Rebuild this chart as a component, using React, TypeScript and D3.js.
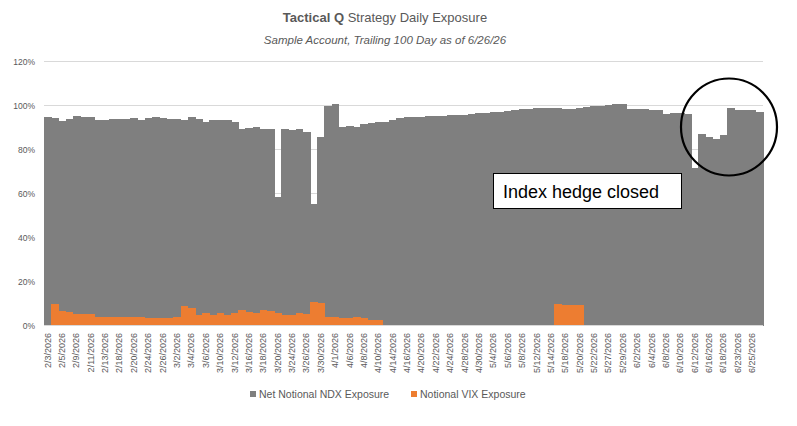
import React from "react";
import * as d3 from "d3";

const dates: string[] = [
  "2/3/2026","2/4/2026","2/5/2026","2/6/2026","2/9/2026","2/10/2026","2/11/2026","2/12/2026","2/13/2026","2/17/2026",
  "2/18/2026","2/19/2026","2/20/2026","2/23/2026","2/24/2026","2/25/2026","2/26/2026","2/27/2026","3/2/2026","3/3/2026",
  "3/4/2026","3/5/2026","3/6/2026","3/9/2026","3/10/2026","3/11/2026","3/12/2026","3/13/2026","3/16/2026","3/17/2026",
  "3/18/2026","3/19/2026","3/20/2026","3/23/2026","3/24/2026","3/25/2026","3/26/2026","3/27/2026","3/30/2026","3/31/2026",
  "4/1/2026","4/2/2026","4/6/2026","4/7/2026","4/8/2026","4/9/2026","4/10/2026","4/13/2026","4/14/2026","4/15/2026",
  "4/16/2026","4/17/2026","4/20/2026","4/21/2026","4/22/2026","4/23/2026","4/24/2026","4/27/2026","4/28/2026","4/29/2026",
  "4/30/2026","5/1/2026","5/4/2026","5/5/2026","5/6/2026","5/7/2026","5/8/2026","5/11/2026","5/12/2026","5/13/2026",
  "5/14/2026","5/15/2026","5/18/2026","5/19/2026","5/20/2026","5/21/2026","5/22/2026","5/26/2026","5/27/2026","5/28/2026",
  "5/29/2026","6/1/2026","6/2/2026","6/3/2026","6/4/2026","6/5/2026","6/8/2026","6/9/2026","6/10/2026","6/11/2026",
  "6/12/2026","6/15/2026","6/16/2026","6/17/2026","6/18/2026","6/22/2026","6/23/2026","6/24/2026","6/25/2026","6/26/2026",
];

// Net Notional NDX Exposure (%)
const ndxExposure: number[] = [
  94.6, 94.2, 93.0, 93.9, 95.1, 94.6, 94.6, 93.6, 93.6, 93.9,
  93.9, 93.9, 94.2, 93.6, 94.2, 94.6, 94.2, 93.9, 93.9, 93.6,
  94.6, 94.0, 92.7, 93.4, 93.4, 93.4, 92.7, 89.2, 89.9, 90.1,
  89.2, 89.2, 58.3, 89.2, 88.9, 89.2, 88.0, 55.2, 85.9, 100.0,
  100.8, 90.1, 90.7, 90.2, 91.7, 92.0, 92.4, 92.7, 93.6, 94.2,
  94.6, 94.9, 94.8, 95.1, 95.4, 95.2, 95.7, 95.7, 95.5, 96.0,
  96.4, 96.7, 96.9, 97.2, 97.6, 97.8, 98.4, 98.6, 98.7, 98.8,
  98.9, 98.7, 98.5, 98.3, 98.9, 99.2, 99.6, 99.8, 100.3, 100.5,
  100.7, 98.4, 98.3, 98.2, 98.1, 97.9, 96.2, 96.8, 96.5, 96.0,
  71.5, 87.0, 85.7, 84.8, 86.8, 98.8, 98.0, 97.8, 97.8, 97.2,
];

// Notional VIX Exposure (%)
const vixExposure: number[] = [
  0, 9.8, 6.7, 6.0, 5.4, 5.2, 5.2, 3.7, 3.7, 3.7,
  3.7, 3.7, 3.7, 3.7, 3.6, 3.4, 3.3, 3.6, 3.7, 9.0,
  8.1, 4.7, 5.8, 4.7, 5.5, 4.7, 5.5, 7.2, 6.3, 5.8,
  7.0, 6.6, 5.8, 4.7, 5.0, 5.5, 5.2, 10.5, 10.4, 3.9,
  3.9, 3.6, 3.6, 3.9, 3.3, 2.5, 2.4, 0, 0, 0,
  0, 0, 0, 0, 0, 0, 0, 0, 0, 0,
  0, 0, 0, 0, 0, 0, 0, 0, 0, 0,
  0, 9.8, 9.5, 9.4, 9.2, 0, 0, 0, 0, 0,
  0, 0, 0, 0, 0, 0, 0, 0, 0, 0,
  0, 0, 0, 0, 0, 0, 0, 0, 0, 0,
];

const yTicks: number[] = [0, 20, 40, 60, 80, 100, 120];
const seriesNames: string[] = ["Net Notional NDX Exposure", "Notional VIX Exposure"];
const seriesColors: string[] = ["#7f7f7f", "#ed7d31"];

const W = 797;
const H = 426;
const FONT = "'Liberation Sans', Arial, sans-serif";
const TXT = "#595959";

export default function App() {
  const x = d3.scaleBand<string>().domain(dates).range([44, 763]).padding(0);
  const y = d3.scaleLinear().domain([0, 120]).range([325.5, 61.5]);
  const bw = x.bandwidth();

  return (
    <div style={{ position: "absolute", left: 0, top: 0 }}>
      <svg width={W} height={H} style={{ display: "block", background: "#fff" }}>
        {/* title */}
        <text x={385} y={22} textAnchor="middle" fontFamily={FONT} fontSize={13} fill={TXT}>
          <tspan fontWeight="bold">Tactical Q</tspan>
          <tspan> Strategy Daily Exposure</tspan>
        </text>
        <text x={385} y={44} textAnchor="middle" fontFamily={FONT} fontSize={11.5} fontStyle="italic" fill={TXT}>
          Sample Account, Trailing 100 Day as of 6/26/26
        </text>

        {/* gridlines */}
        {yTicks.map((t) => (
          <line key={"g" + t} x1={44} x2={763} y1={y(t)} y2={y(t)} stroke="#d9d9d9" strokeWidth={1} />
        ))}
        {yTicks.map((t) => (
          <text key={"yt" + t} x={35} y={y(t) + 3} textAnchor="end" fontFamily={FONT} fontSize={8.5} fill={TXT}>
            {t + "%"}
          </text>
        ))}

        {/* bars */}
        <g shapeRendering="crispEdges">
          {dates.map((d, i) => (
            <rect key={"n" + i} x={x(d)!} y={y(ndxExposure[i])} width={bw + 0.6} height={y(0) - y(ndxExposure[i])} fill={seriesColors[0]} />
          ))}
          {dates.map((d, i) =>
            vixExposure[i] > 0 ? (
              <rect key={"v" + i} x={x(d)!} y={y(vixExposure[i])} width={bw + 0.6} height={y(0) - y(vixExposure[i])} fill={seriesColors[1]} />
            ) : null
          )}
        </g>

        {/* x axis */}
        <line x1={44} x2={763} y1={y(0)} y2={y(0)} stroke="#d9d9d9" strokeWidth={1} />
        {dates.map((d, i) =>
          i % 2 === 0 ? (
            <text
              key={"xt" + i}
              transform={`translate(${x(d)! + bw / 2 + 3},${333}) rotate(-90)`}
              textAnchor="end"
              fontFamily={FONT}
              fontSize={9}
              fill={TXT}
            >
              {d}
            </text>
          ) : null
        )}

        {/* annotation */}
        <rect x={493.5} y={173.5} width={188} height={35} fill="#fff" stroke="#000" strokeWidth={1} />
        <text x={503} y={197.5} fontFamily={FONT} fontSize={18} fill="#000">
          Index hedge closed
        </text>
        <ellipse cx={729} cy={127} rx={48} ry={48.5} fill="none" stroke="#000" strokeWidth={2.2} />

        {/* legend */}
        <rect x={250} y={391} width={6} height={6} fill={seriesColors[0]} />
        <text x={259} y={398} fontFamily={FONT} fontSize={10.5} fill={TXT}>
          {seriesNames[0]}
        </text>
        <rect x={411} y={391} width={6} height={6} fill={seriesColors[1]} />
        <text x={420} y={398} fontFamily={FONT} fontSize={10.5} fill={TXT}>
          {seriesNames[1]}
        </text>
      </svg>
    </div>
  );
}
